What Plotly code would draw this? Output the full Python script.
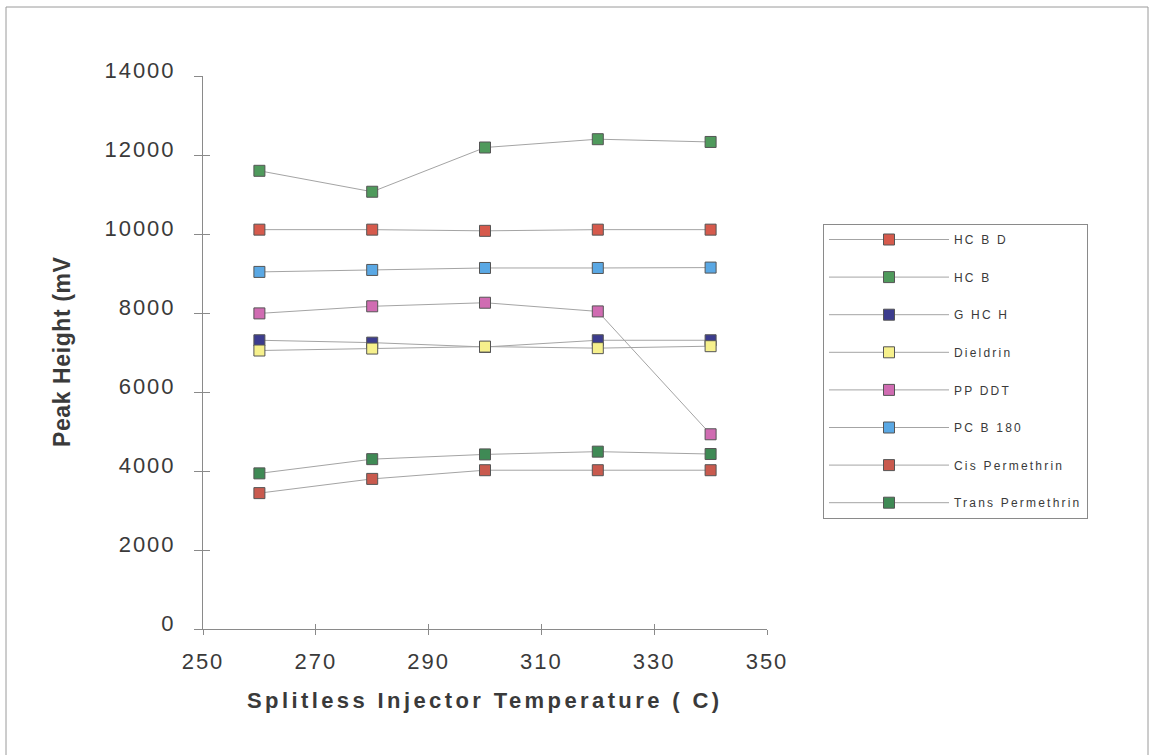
import plotly.graph_objects as go

# Splitless injector temperature study: peak heights per compound
temps = [260, 280, 300, 320, 340]

hcbd = [10110, 10110, 10080, 10110, 10110]
hcb = [11600, 11070, 12190, 12400, 12330]
g_hch = [7310, 7250, 7140, 7310, 7310]
dieldrin = [7050, 7100, 7150, 7110, 7160]
pp_ddt = [7990, 8170, 8260, 8040, 4930]
pcb_180 = [9040, 9090, 9140, 9140, 9150]
cis_permethrin = [3440, 3800, 4020, 4020, 4020]
trans_permethrin = [3940, 4300, 4420, 4490, 4430]

series_names = ["HC B D", "HC B", "G HC H", "Dieldrin", "PP DDT", "PC B 180",
                "Cis Permethrin", "Trans Permethrin"]
series_values = [hcbd, hcb, g_hch, dieldrin, pp_ddt, pcb_180,
                 cis_permethrin, trans_permethrin]
series_colors = ["#d65a4c", "#4f9a5c", "#3c3c8e", "#f6f08c", "#d06cb2",
                 "#5aa8e4", "#c95a4e", "#3f8a55"]
x_ticks = [250, 270, 290, 310, 330, 350]
y_ticks = [0, 2000, 4000, 6000, 8000, 10000, 12000, 14000]

W, H = 1151, 755
L, R, T, B = 203, 384, 76, 126
pw, ph = W - L - R, H - T - B
FONT = "Liberation Sans, Arial"
INK = "#3a3a3a"
AXIS = "#8a8a8a"


def px_x(p):
    return (p - L) / pw


def px_y(p):
    return (H - B - p) / ph


def spaced(text, px, bold=False):
    inner = f'<span style="letter-spacing:{px}px">{text}</span>'
    return f"<b>{inner}</b>" if bold else inner


fig = go.Figure()
for i, (name, vals, col) in enumerate(zip(series_names, series_values, series_colors)):
    fig.add_trace(go.Scatter(
        x=temps, y=vals, name=spaced(name, 2.2), mode="lines+markers",
        line=dict(color="#a4a4a4", width=1),
        marker=dict(symbol="square", size=11, color=col,
                    line=dict(color="#555555", width=1)),
        legendgroup=f"g{i}",
    ))

tick_font = dict(family=FONT, size=22, color=INK)

fig.update_layout(
    width=W, height=H,
    margin=dict(l=L, r=R, t=T, b=B),
    paper_bgcolor="white", plot_bgcolor="white",
    showlegend=True,
    legend=dict(
        x=px_x(823), y=px_y(224), xanchor="left", yanchor="top",
        bgcolor="white", bordercolor=AXIS, borderwidth=1,
        font=dict(family=FONT, size=12, color=INK),
        itemwidth=120, tracegroupgap=18.6, traceorder="grouped",
    ),
    xaxis=dict(
        range=[250, 350], tickvals=x_ticks,
        ticktext=[spaced(str(v), 2) for v in x_ticks],
        showgrid=False, zeroline=False, showline=True, linecolor=AXIS,
        linewidth=1, ticks="outside", ticklen=5, tickcolor=AXIS,
        tickfont=tick_font, ticklabelstandoff=8,
    ),
    yaxis=dict(
        range=[0, 14000], tickvals=y_ticks,
        ticktext=[spaced(str(v), 2) for v in y_ticks],
        showgrid=False, zeroline=False, showline=True, linecolor=AXIS,
        linewidth=1, ticks="outside", ticklen=8, tickcolor=AXIS,
        tickfont=tick_font, ticklabelstandoff=14, ticklabelshift=-6,
    ),
    # companion axes supply the inner half of the crossing tick marks
    xaxis2=dict(range=[250, 350], tickvals=x_ticks, overlaying="x", anchor="y",
                side="bottom", showgrid=False, zeroline=False, showline=False,
                ticks="inside", ticklen=5, tickcolor=AXIS,
                showticklabels=False),
    yaxis2=dict(range=[0, 14000], tickvals=y_ticks, overlaying="y", anchor="x",
                side="left", showgrid=False, zeroline=False, showline=False,
                ticks="inside", ticklen=7, tickcolor=AXIS,
                showticklabels=False),
    shapes=[dict(type="rect", xref="paper", yref="paper",
                 x0=px_x(6), x1=px_x(1148), y0=px_y(780), y1=px_y(7),
                 line=dict(color="#9a9a9a", width=1), fillcolor="rgba(0,0,0,0)",
                 layer="below")],
    annotations=[
        dict(text=spaced("Splitless Injector Temperature ( C)", 3.4, bold=True),
             xref="paper", yref="paper", x=px_x(485), y=px_y(700),
             xanchor="center", yanchor="middle", showarrow=False,
             font=dict(family=FONT, size=22, color=INK)),
        dict(text=spaced("Peak Height (mV", 0.6, bold=True),
             xref="paper", yref="paper", x=px_x(62), y=px_y(352),
             xanchor="center", yanchor="middle", textangle=-90, showarrow=False,
             font=dict(family=FONT, size=23, color=INK)),
    ],
)

# invisible trace to activate the companion tick axes
fig.add_trace(go.Scatter(x=[None], y=[None], xaxis="x2", yaxis="y2",
                         showlegend=False, hoverinfo="skip"))

fig.write_html("out.html")
